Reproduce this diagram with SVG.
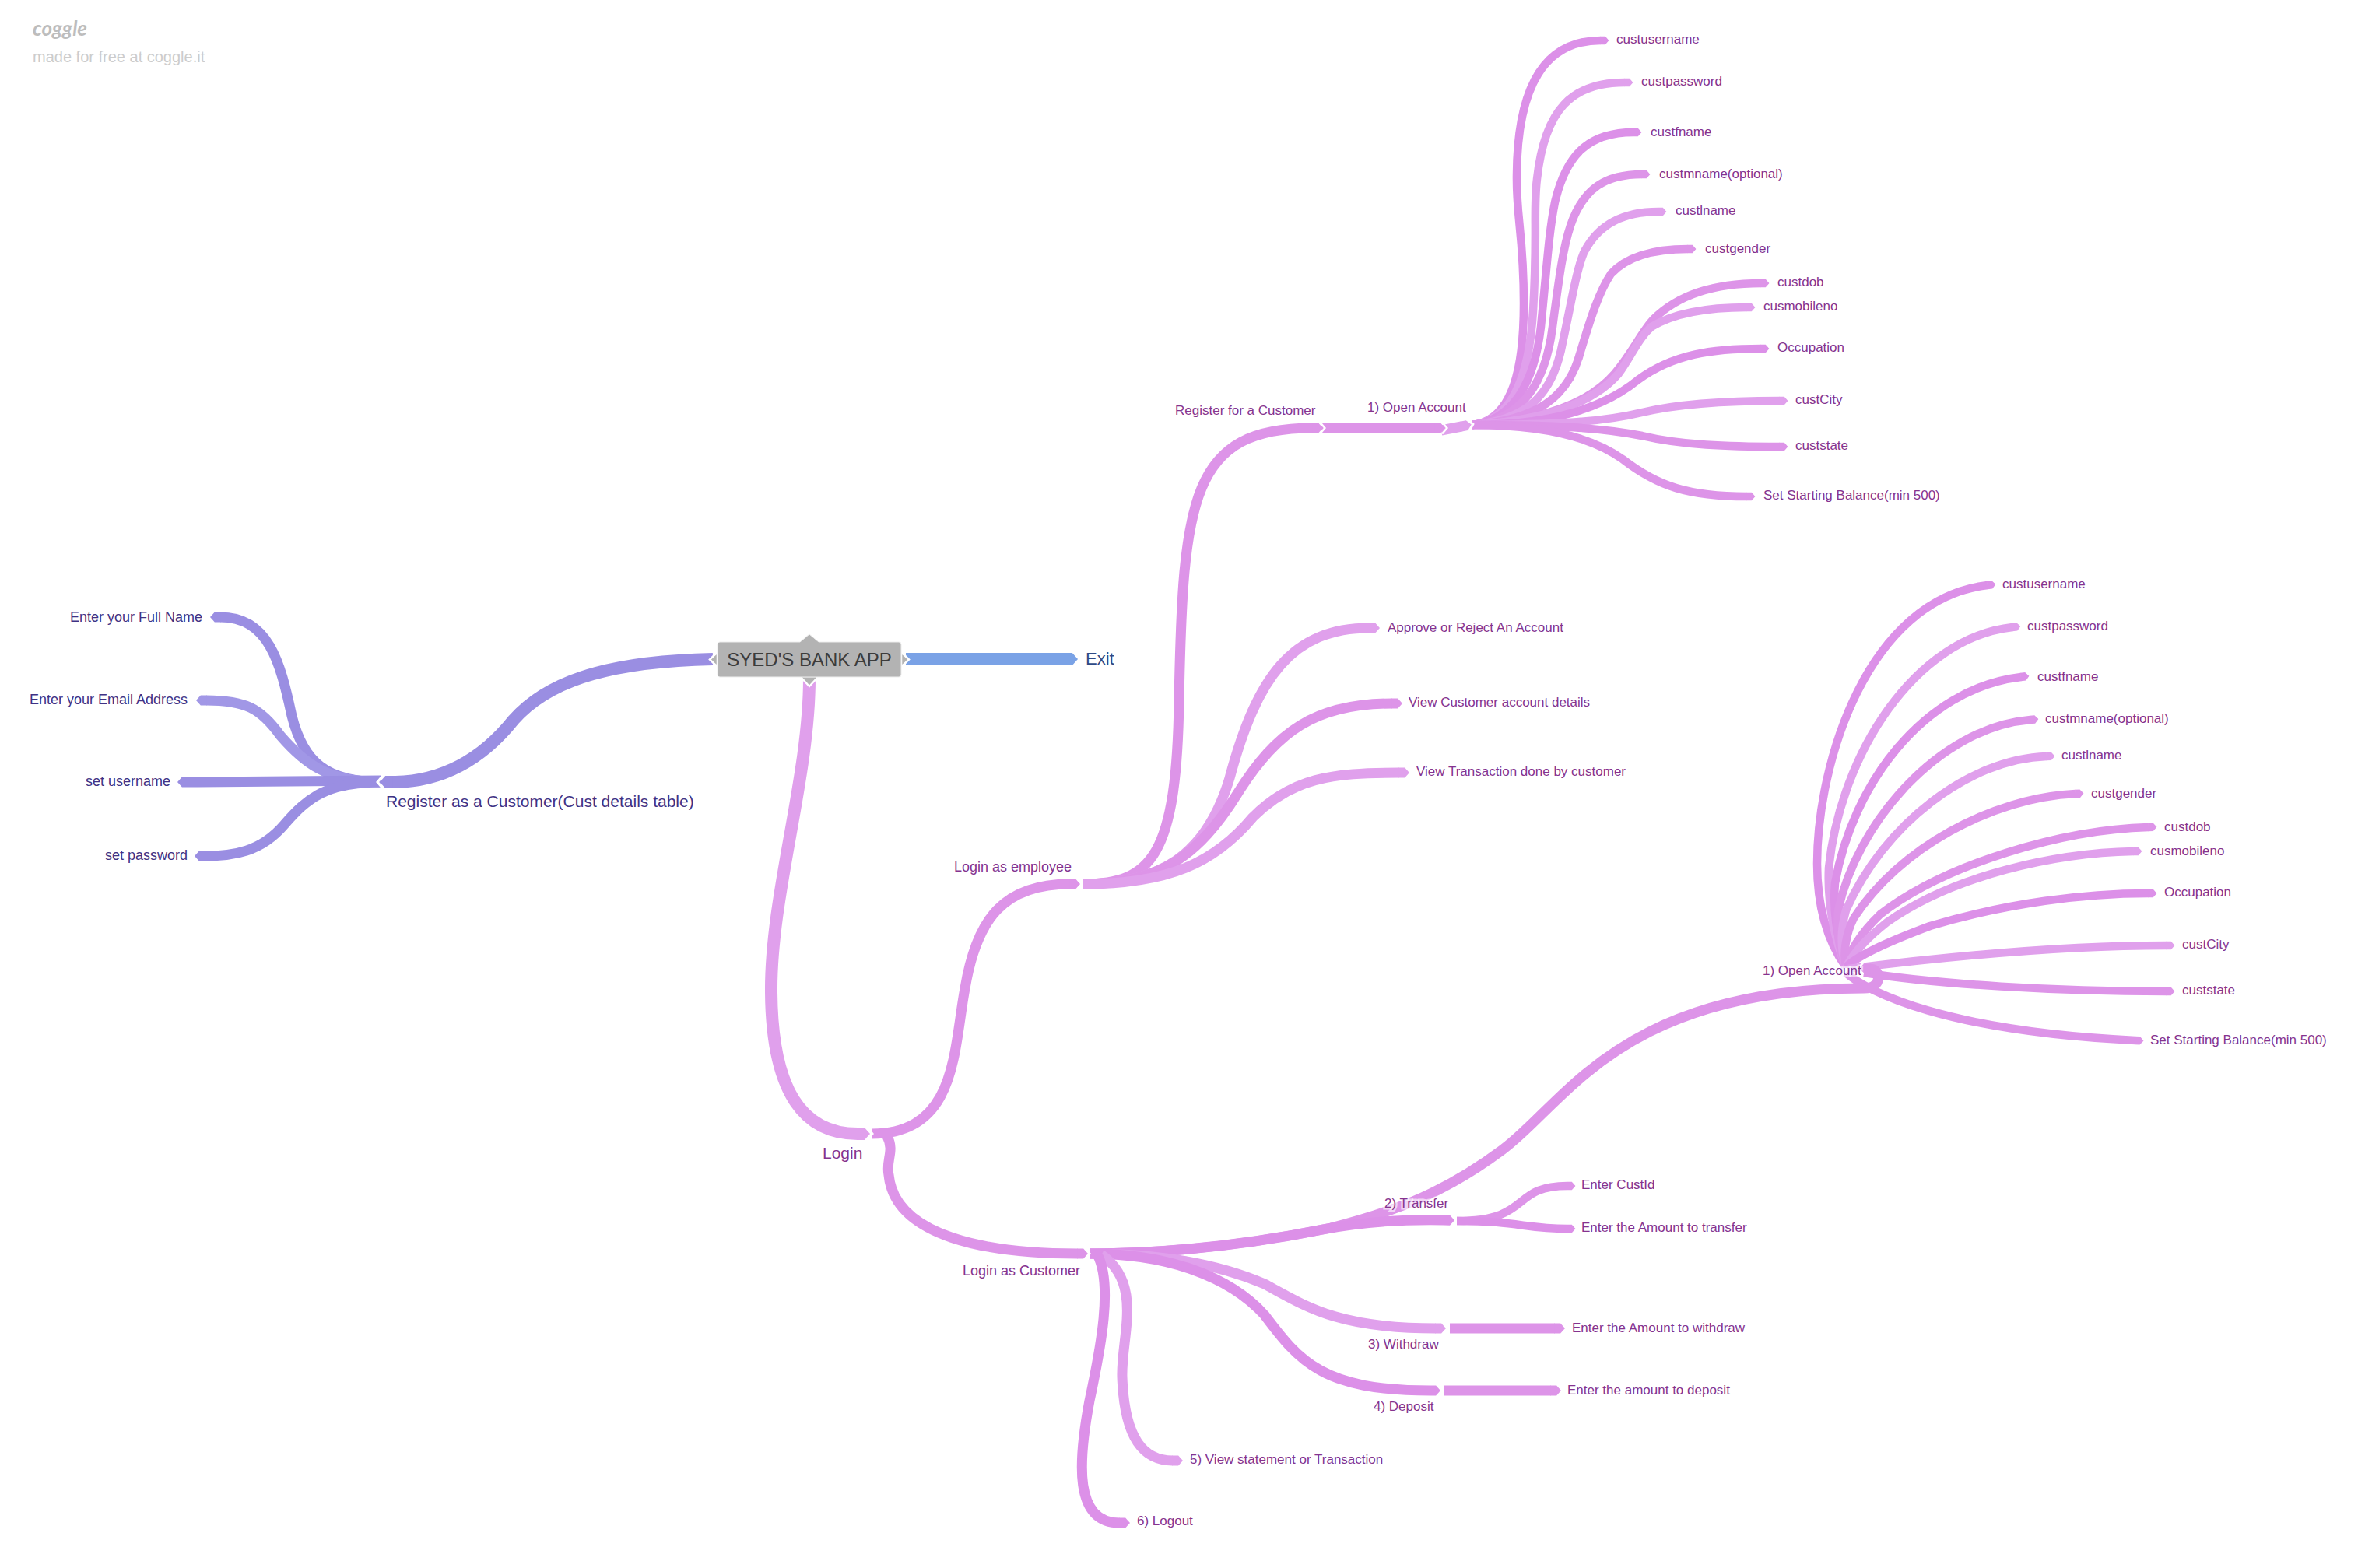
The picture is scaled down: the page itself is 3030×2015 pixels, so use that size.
<svg xmlns="http://www.w3.org/2000/svg" width="3030" height="2015" viewBox="0 0 3030 2015">
<style>
text{font-family:"Liberation Sans",Arial,sans-serif;font-size:17px;fill:#85338f}
.v{fill:#3f3285;font-size:18px}
.b{fill:#2f4a85;font-size:22px}
.big{font-size:21px}
.n18{font-size:18px}
.halo{paint-order:stroke;stroke:#fff;stroke-opacity:.6;stroke-width:5px}
.ln{fill:none}
.c1{stroke:#dd94e8;marker-end:url(#m1)}.c2{stroke:#e0a0ec;marker-end:url(#m2)}.c3{stroke:#dc90e8;marker-end:url(#m3)}.c4{stroke:#9a8ee2;marker-end:url(#m4)}.c5{stroke:#a197e6;marker-end:url(#m5)}.c6{stroke:#7aa2e6;marker-end:url(#m6)}
.w16{stroke-width:16px}.w12{stroke-width:13px}.w10{stroke-width:10.5px}
.chev{fill:none;stroke:#fff;stroke-width:.2}
.rt{fill:#b3b3b3;stroke:#fff;stroke-width:2.5px}
</style>
<defs>
<marker id="m1" markerWidth="3" markerHeight="3" refX="0" refY="1.5" orient="auto" overflow="visible"><polygon points="-.05,1 .55,1 1,1.5 .55,2 -.05,2" fill="#dd94e8"/><polyline class="chev" points=".7,.92 1.18,1.5 .7,2.08"/></marker>
<marker id="m2" markerWidth="3" markerHeight="3" refX="0" refY="1.5" orient="auto" overflow="visible"><polygon points="-.05,1 .55,1 1,1.5 .55,2 -.05,2" fill="#e0a0ec"/><polyline class="chev" points=".7,.92 1.18,1.5 .7,2.08"/></marker>
<marker id="m3" markerWidth="3" markerHeight="3" refX="0" refY="1.5" orient="auto" overflow="visible"><polygon points="-.05,1 .55,1 1,1.5 .55,2 -.05,2" fill="#dc90e8"/><polyline class="chev" points=".7,.92 1.18,1.5 .7,2.08"/></marker>
<marker id="m4" markerWidth="3" markerHeight="3" refX="0" refY="1.5" orient="auto" overflow="visible"><polygon points="-.05,1 .55,1 1,1.5 .55,2 -.05,2" fill="#9a8ee2"/><polyline class="chev" points=".7,.92 1.18,1.5 .7,2.08"/></marker>
<marker id="m5" markerWidth="3" markerHeight="3" refX="0" refY="1.5" orient="auto" overflow="visible"><polygon points="-.05,1 .55,1 1,1.5 .55,2 -.05,2" fill="#a197e6"/><polyline class="chev" points=".7,.92 1.18,1.5 .7,2.08"/></marker>
<marker id="m6" markerWidth="3" markerHeight="3" refX="0" refY="1.5" orient="auto" overflow="visible"><polygon points="-.05,1 .55,1 1,1.5 .55,2 -.05,2" fill="#7aa2e6"/><polyline class="chev" points=".7,.92 1.18,1.5 .7,2.08"/></marker>
</defs>
<rect width="3030" height="2015" fill="#fff"/>
<g id="connectors" class="ln" fill="none">
<!-- upper account leaves -->
<path class="c3 w10" d="M1892,546 C1945,540 1958,470 1958,390 C1958,300 1948,280 1949,224 C1950,110 1985,52 2057,52"/>
<path class="c2 w10" d="M1892,546 C1945,540 1965,480 1970,400 C1976,300 1970,270 1975,230 C1985,140 2020,106 2088,106"/>
<path class="c3 w10" d="M1892,546 C1945,540 1972,490 1980,420 C1988,340 1990,300 1998,260 C2012,200 2040,170 2099,170"/>
<path class="c1 w10" d="M1892,546 C1950,540 1985,500 1995,420 C2003,360 2008,320 2018,290 C2035,240 2065,224 2110,224"/>
<path class="c2 w10" d="M1892,546 C1960,540 1995,510 2008,440 C2020,385 2025,350 2035,325 C2055,285 2090,272 2131,272"/>
<path class="c1 w10" d="M1892,546 C1975,540 2015,510 2030,455 C2045,405 2055,375 2070,352 C2090,330 2125,320 2169,320"/>
<path class="c1 w10" d="M1892,546 C1990,540 2045,515 2075,480 C2100,450 2110,425 2125,410 C2160,375 2210,364 2263,364"/>
<path class="c2 w10" d="M1892,546 C1990,540 2050,515 2080,480 C2098,455 2105,435 2122,420 C2155,400 2200,395 2245,395"/>
<path class="c3 w10" d="M1892,546 C1990,546 2060,525 2105,488 C2150,455 2200,448 2263,448"/>
<path class="c2 w10" d="M1892,546 C2000,546 2060,542 2110,530 C2160,518 2220,515 2287,515"/>
<path class="c1 w10" d="M1892,546 C2000,546 2060,550 2110,560 C2160,572 2220,574 2287,574"/>
<path class="c1 w10" d="M1892,546 C1990,546 2050,565 2085,590 C2130,625 2170,638 2245,638"/>
<path class="c2 w12" d="M1852,553 L1878,548"/>
<path class="c1 w12" d="M1697,550 L1844,550"/>
<path class="c1 w12" d="M1392,1136 C1480,1136 1512,1100 1515,900 C1520,640 1530,550 1687,550"/>
<path class="c2 w12" d="M1392,1136 C1490,1136 1550,1100 1580,1000 C1615,870 1660,807 1760,807"/>
<path class="c1 w12" d="M1392,1136 C1490,1136 1540,1100 1590,1020 C1640,940 1690,904 1789,904"/>
<path class="c2 w12" d="M1392,1136 C1500,1136 1560,1110 1610,1050 C1660,1000 1710,993 1798,993"/>
<!-- lower account leaves -->
<path class="c3 w10" d="M2372,1243 C2345,1205 2335,1160 2335,1110 C2335,980 2400,770 2554,752"/>
<path class="c2 w10" d="M2372,1243 C2355,1200 2348,1160 2350,1115 C2365,970 2460,820 2586,806"/>
<path class="c3 w10" d="M2372,1243 C2360,1200 2355,1170 2358,1135 C2380,1010 2470,885 2597,870"/>
<path class="c1 w10" d="M2372,1243 C2362,1215 2360,1195 2362,1170 C2385,1060 2490,935 2609,925"/>
<path class="c2 w10" d="M2372,1243 C2365,1220 2365,1195 2372,1170 C2420,1060 2530,975 2630,972"/>
<path class="c1 w10" d="M2372,1243 C2368,1225 2372,1200 2382,1180 C2440,1090 2560,1025 2667,1020"/>
<path class="c1 w10" d="M2372,1243 C2375,1225 2390,1200 2416,1175 C2500,1110 2650,1066 2761,1063"/>
<path class="c2 w10" d="M2372,1243 C2385,1220 2400,1205 2425,1185 C2510,1125 2640,1096 2742,1094"/>
<path class="c3 w10" d="M2372,1243 C2390,1225 2440,1205 2480,1190 C2580,1160 2680,1148 2761,1148"/>
<path class="c2 w10" d="M2375,1245 C2480,1232 2640,1215 2784,1215"/>
<path class="c1 w10" d="M2395,1250 C2490,1265 2640,1274 2784,1274"/>
<path class="c1 w10" d="M2372,1250 C2400,1275 2500,1325 2744,1337"/>
<path class="c1 w12" d="M1400,1611 C1500,1611 1600,1600 1710,1578 C1800,1555 1860,1530 1930,1478 C2010,1420 2080,1270 2395,1270 C2420,1270 2417,1245 2403,1245"/>
<path class="c3 w12" d="M1400,1611 C1500,1611 1600,1600 1700,1580 C1750,1570 1800,1567 1856,1568"/>
<path class="c1 w10" d="M1872,1569 C1970,1569 1940,1524 2014,1524"/>
<path class="c3 w10" d="M1872,1569 C1950,1569 1960,1579 2014,1579"/>
<path class="c2 w12" d="M1400,1611 C1480,1611 1560,1622 1625,1650 C1680,1680 1720,1707 1845,1707"/>
<path class="c1 w12" d="M1863,1707 L1998,1707"/>
<path class="c3 w12" d="M1400,1611 C1500,1611 1580,1640 1625,1690 C1670,1750 1700,1787 1838,1787"/>
<path class="c1 w12" d="M1855,1787 L1993,1787"/>
<path class="c2 w12" d="M1415,1612 C1470,1650 1440,1720 1442,1770 C1445,1850 1470,1877 1507,1877"/>
<path class="c3 w12" d="M1410,1612 C1430,1650 1415,1730 1400,1800 C1385,1880 1380,1957 1439,1957"/>
<path class="c1 w12" d="M1120,1457 C1230,1457 1225,1350 1240,1270 C1255,1180 1290,1136 1375,1136"/>
<path class="c1 w12" d="M1140,1460 C1150,1480 1138,1490 1142,1510 C1150,1590 1270,1611 1385,1611"/>
<path class="c2 w16" d="M1040,872 C1040,1000 990,1150 991,1275 C992,1400 1030,1457 1102,1457"/>
<path class="c6 w16" d="M1164,847 L1369,847"/>
<!-- left -->
<path class="c4 w12" d="M490,1005 C420,1005 390,980 375,920 C360,850 345,793 283,793"/>
<path class="c5 w12" d="M490,1005 C420,1005 390,980 360,945 C335,910 315,900 265,900"/>
<path class="c4 w12" d="M490,1003 L241,1005"/>
<path class="c4 w12" d="M490,1005 C420,1005 395,1025 365,1060 C335,1095 300,1100 263,1100"/>
<path class="c4 w16" d="M916,847 C770,850 700,880 660,925 C620,975 570,1005 504,1005"/>
</g>
<g id="node-root"><polygon class="rt" points="922,838 912,847.5 922,857"/><polygon class="rt" points="1158,838 1168,847.5 1158,857"/><polygon class="rt" points="1028,869 1040,882 1052,869"/><path d="M925,825 H1028 L1040,815 L1052,825 H1155 Q1158,825 1158,828 V867 Q1158,870 1155,870 H925 Q922,870 922,867 V828 Q922,825 925,825Z" fill="#b3b3b3" stroke="#eeeeee" stroke-width="1"/><text x="1040" y="856" text-anchor="middle" style="font-size:24px;fill:#3c3c3c">SYED'S BANK APP</text></g>
<g id="node-exit"><text class="b" x="1395" y="854">Exit</text></g>
<g id="node-register"><text class="v big" x="496" y="1037" style="font-size:21px">Register as a Customer(Cust details table)</text></g>
<g id="node-fullname"><text class="v" x="260" y="799" text-anchor="end">Enter your Full Name</text></g>
<g id="node-email"><text class="v" x="241" y="905" text-anchor="end">Enter your Email Address</text></g>
<g id="node-username"><text class="v" x="219" y="1010" text-anchor="end">set username</text></g>
<g id="node-password"><text class="v" x="241" y="1105" text-anchor="end">set password</text></g>
<g id="node-login"><text class="big" x="1057" y="1489">Login</text></g>
<g id="node-employee"><text class="n18" x="1226" y="1120">Login as employee</text></g>
<g id="node-customer"><text class="n18" x="1237" y="1639">Login as Customer</text></g>
<g id="node-regcust"><text x="1510" y="533">Register for a Customer</text></g>
<g id="node-open1"><text x="1757" y="529">1) Open Account</text></g>
<g id="node-u1"><text x="2077" y="56">custusername</text></g>
<g id="node-u2"><text x="2109" y="110">custpassword</text></g>
<g id="node-u3"><text x="2121" y="175">custfname</text></g>
<g id="node-u4"><text x="2132" y="229">custmname(optional)</text></g>
<g id="node-u5"><text x="2153" y="276">custlname</text></g>
<g id="node-u6"><text x="2191" y="325">custgender</text></g>
<g id="node-u7"><text x="2284" y="368">custdob</text></g>
<g id="node-u8"><text x="2266" y="399">cusmobileno</text></g>
<g id="node-u9"><text x="2284" y="452">Occupation</text></g>
<g id="node-u10"><text x="2307" y="519">custCity</text></g>
<g id="node-u11"><text x="2307" y="578">custstate</text></g>
<g id="node-u12"><text x="2266" y="642">Set Starting Balance(min 500)</text></g>
<g id="node-approve"><text x="1783" y="812">Approve or Reject An Account</text></g>
<g id="node-viewcust"><text x="1810" y="908">View Customer account details</text></g>
<g id="node-viewtrans"><text x="1820" y="997">View Transaction done by customer</text></g>
<g id="node-open2"><text class="halo" x="2265" y="1253">1) Open Account</text></g>
<g id="node-l1"><text x="2573" y="756">custusername</text></g>
<g id="node-l2"><text x="2605" y="810">custpassword</text></g>
<g id="node-l3"><text x="2618" y="875">custfname</text></g>
<g id="node-l4"><text x="2628" y="929">custmname(optional)</text></g>
<g id="node-l5"><text x="2649" y="976">custlname</text></g>
<g id="node-l6"><text x="2687" y="1025">custgender</text></g>
<g id="node-l7"><text x="2781" y="1068">custdob</text></g>
<g id="node-l8"><text x="2763" y="1099">cusmobileno</text></g>
<g id="node-l9"><text x="2781" y="1152">Occupation</text></g>
<g id="node-l10"><text x="2804" y="1219">custCity</text></g>
<g id="node-l11"><text x="2804" y="1278">custstate</text></g>
<g id="node-l12"><text x="2763" y="1342">Set Starting Balance(min 500)</text></g>
<g id="node-transfer"><text class="halo" x="1779" y="1552">2) Transfer</text></g>
<g id="node-custid"><text x="2032" y="1528">Enter CustId</text></g>
<g id="node-amt"><text x="2032" y="1583">Enter the Amount to transfer</text></g>
<g id="node-withdraw"><text x="1758" y="1733">3) Withdraw</text></g>
<g id="node-amtw"><text x="2020" y="1712">Enter the Amount to withdraw</text></g>
<g id="node-deposit"><text x="1765" y="1813">4) Deposit</text></g>
<g id="node-amtd"><text x="2014" y="1792">Enter the amount to deposit</text></g>
<g id="node-view"><text x="1529" y="1881">5) View statement or Transaction</text></g>
<g id="node-logout"><text x="1461" y="1960">6) Logout</text></g>
<g id="logo"><text x="42" y="46" style="font-family:Lato,sans-serif;font-style:italic;font-weight:700;font-size:26px;fill:#bdbdbd">coggle</text><text x="42" y="80" style="font-size:20px;fill:#cccccc">made for free at coggle.it</text></g>
</svg>
